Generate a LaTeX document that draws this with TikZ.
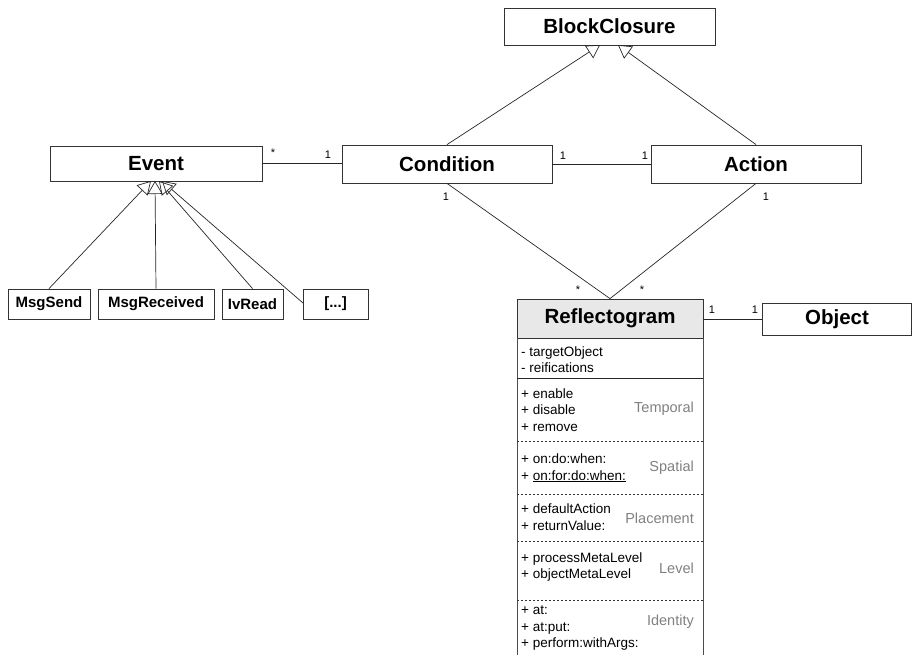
\documentclass[tikz,border=0pt]{standalone}
\usepackage{fontspec}
\setmainfont{Liberation Sans}
\usetikzlibrary{arrows.meta}
\tikzset{
  cls/.style={draw=black!80, line width=0.8pt, fill=white, inner sep=0pt,
    font=\bfseries\fontsize{20.5}{24}\selectfont},
  subcls/.style={draw=black!80, line width=0.8pt, fill=white, inner sep=0pt,
    minimum height=30pt, font=\bfseries\fontsize{15}{18}\selectfont},
  assoc/.style={line width=0.7pt, black!85},
  gen/.style={line width=0.7pt, black!85, -{Triangle[open, length=13pt, width=15pt]}},
  mult/.style={font=\fontsize{11}{13}\selectfont, inner sep=1pt},
  member/.style={font=\fontsize{13.5}{16.5}\selectfont, align=left, anchor=west, inner sep=0pt},
  cat/.style={font=\fontsize{14.5}{17}\selectfont, text=black!50, anchor=east, inner sep=0pt},
  sep/.style={line width=0.7pt, black!80, dash pattern=on 2pt off 2pt},
}
\begin{document}
\begin{tikzpicture}[x=1pt,y=-1pt]
\useasboundingbox (0,0) rectangle (912,655);

% classes
\node[cls, minimum width=211pt, minimum height=37pt] (block) at (609.5,26.5) {BlockClosure};
\node[cls, minimum width=212pt, minimum height=35pt] (event) at (156,163.5) {Event};
\node[cls, minimum width=210pt, minimum height=38pt] (cond) at (447,164) {Condition};
\node[cls, minimum width=210pt, minimum height=38pt] (action) at (756,164) {Action};
\node[cls, minimum width=149pt, minimum height=32pt] (object) at (837,319) {Object};

\node[subcls, minimum width=82pt] (msgsend) at (49,304) {MsgSend};
\node[subcls, minimum width=116pt] (msgrec) at (156,304) {MsgReceived};
\node[subcls, minimum width=61pt] (ivread) at (252.5,304) {IvRead};
\node[subcls, minimum width=65pt] (etc) at (335.5,304) {[...]};

% Reflectogram
\node[draw=black!80, line width=0.8pt, fill=black!9, minimum width=186pt, minimum height=39pt,
  inner sep=0pt, font=\bfseries\fontsize{20.5}{24}\selectfont] (refl) at (610,318.5) {Reflectogram};
\coordinate (rTL) at (517,338);
\coordinate (rTR) at (703,338);
\coordinate (rBL) at (517,655);
\coordinate (rBR) at (703,655);
\draw[black!70, line width=0.8pt] (rTL) -- (rBL);
\draw[black!70, line width=0.8pt] (rTR) -- (rBR);
\coordinate (a1) at (517,378); \coordinate (a2) at (703,378);
\draw[black!85, line width=0.8pt] (a1) -- (a2);
\coordinate (s1) at (517,441); \coordinate (s2) at (703,441);
\coordinate (p1) at (517,494); \coordinate (p2) at (703,494);
\coordinate (l1) at (517,541); \coordinate (l2) at (703,541);
\coordinate (i1) at (517,600); \coordinate (i2) at (703,600);
\draw[sep] (s1) -- (s2);
\draw[sep] (p1) -- (p2);
\draw[sep] (l1) -- (l2);
\draw[sep] (i1) -- (i2);

\node[member] (attrs) at (521,359.5) {- targetObject\\- reifications};
\node[member] (temp) at (521,410) {+ enable\\+ disable\\+ remove};
\node[cat] (tempL) at (694,409) {Temporal};
\node[member] (spat) at (521,468) {+ on:do:when:\\+ \underline{on:for:do:when:}};
\node[cat] (spatL) at (694,468) {Spatial};
\node[member] (plac) at (521,517) {+ defaultAction\\+ returnValue:};
\node[cat] (placL) at (694,518) {Placement};
\node[member] (lev) at (521,567) {+ processMetaLevel\\+ objectMetaLevel};
\node[cat] (levL) at (694,568) {Level};
\node[member] (ident) at (521,628.5) {+ at:\\+ at:put:\\+ perform:withArgs:};
\node[cat] (identL) at (694,622) {Identity};

% generalisations to BlockClosure
\coordinate (bc1) at (600,45);
\coordinate (bc2) at (618,45);
\draw[gen] (cond.north) -- (bc1);
\draw[gen] (action.north) -- (bc2);

% generalisations to Event
\coordinate (e1) at (151,181);
\coordinate (e2) at (155,181);
\coordinate (e3) at (159,181);
\coordinate (e4) at (162,181);
\coordinate (etcL) at (303,303);
\draw[gen] (msgsend.north) -- (e1);
\draw[gen] (msgrec.north) -- (e2);
\draw[gen] (ivread.north) -- (e3);
\draw[gen] (etcL) -- (e4);

% associations
\draw[assoc] (event.east) -- (event.east -| cond.west);
\node[mult] (m1) at (273,153) {*};
\node[mult] (m2) at (328,155) {1};
\draw[assoc] (cond.east) -- (action.west);
\node[mult] (m3) at (563,156) {1};
\node[mult] (m4) at (645,156) {1};
\draw[assoc] (cond.south) -- (refl.north);
\draw[assoc] (action.south) -- (refl.north);
\node[mult] (m5) at (446,197) {1};
\node[mult] (m6) at (766,197) {1};
\node[mult] (m7) at (578,290) {*};
\node[mult] (m8) at (642,290) {*};
\draw[assoc] (refl.east |- object.west) -- (object.west);
\node[mult] (m9) at (712,310) {1};
\node[mult] (m10) at (755,310) {1};
\end{tikzpicture}
\end{document}
